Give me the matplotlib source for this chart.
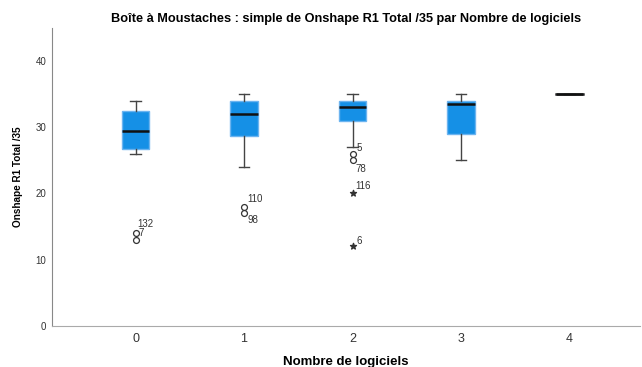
import matplotlib.pyplot as plt

plt.rcParams['font.family'] = ['Liberation Sans', 'DejaVu Sans']

groups = ["0", "1", "2", "3", "4"]
whislo = [26, 24, 27, 25, 35]
q1 = [26.7, 28.7, 31, 29, 35]
med = [29.5, 32, 33, 33.5, 35]
q3 = [32.5, 34, 34, 34, 35]
whishi = [34, 35, 35, 35, 35]

# outliers (circles) and extremes (stars): group index, value, case label
out_grp = [0, 0, 1, 1, 2, 2]
out_val = [14, 13, 18, 17, 26, 25]
out_lab = ["132", "7", "110", "98", "5", "78"]
ext_grp = [2, 2]
ext_val = [20, 12]
ext_lab = ["116", "6"]

# label offsets (x in group units, y in data units)
out_dx = [0.02, 0.03, 0.03, 0.03, 0.04, 0.03]
out_dy = [1.4, 1.0, 1.2, -1.0, 0.8, -1.3]
ext_dx = [0.03, 0.04]
ext_dy = [1.2, 0.8]

fig = plt.figure(figsize=(6.42, 3.67), dpi=100)
ax = fig.add_axes([0.081, 0.112, 0.916, 0.812])

stats = []
for i in range(len(groups)):
    stats.append({"med": med[i], "q1": q1[i], "q3": q3[i],
                  "whislo": whislo[i], "whishi": whishi[i], "fliers": []})

pos = list(range(len(groups)))
ax.bxp(stats, positions=pos, widths=0.25, patch_artist=True, showfliers=False,
       boxprops=dict(facecolor="#1590e6", edgecolor="#6cb4f0", linewidth=1),
       medianprops=dict(color="#111111", linewidth=1.8),
       whiskerprops=dict(color="#444444", linewidth=1),
       capprops=dict(color="#444444", linewidth=1),
       capwidths=0.1)

# group 4 is a single value: draw as a line
ax.plot([4 - 0.125, 4 + 0.125], [med[4], med[4]], color="#333333", lw=1.8)

ax.scatter(out_grp, out_val, s=18, facecolors="white", edgecolors="#333333",
           linewidths=0.9, zorder=3)
ax.scatter(ext_grp, ext_val, s=20, marker="*", color="#333333", zorder=3)

for g, v, t, dx, dy in zip(out_grp, out_val, out_lab, out_dx, out_dy):
    ax.text(g + dx, v + dy, t, fontsize=7, color="#333333", va="center")
for g, v, t, dx, dy in zip(ext_grp, ext_val, ext_lab, ext_dx, ext_dy):
    ax.text(g + dx, v + dy, t, fontsize=7, color="#333333", va="center")

ax.set_xlim(-0.77, 4.65)
ax.set_ylim(0, 45)
ax.set_yticks([0, 10, 20, 30, 40])
ax.set_xticks(pos)
ax.set_xticklabels(groups, fontsize=9, color="#333333")
ax.tick_params(axis="y", labelsize=7, colors="#333333", length=0, pad=4)
ax.tick_params(axis="x", length=0, pad=5)
for s in ["top", "right"]:
    ax.spines[s].set_visible(False)
ax.spines["left"].set_color("#888888")
ax.spines["bottom"].set_color("#aaaaaa")

ax.set_title("Boîte à Moustaches : simple de Onshape R1 Total /35 par Nombre de logiciels",
             fontsize=9.2, fontweight="bold", pad=4)
ax.set_xlabel("Nombre de logiciels", fontsize=9.5, fontweight="bold", labelpad=8)
ax.set_ylabel("Onshape R1 Total /35", fontsize=7.2, fontweight="bold", labelpad=9)

fig.savefig("out.png", dpi=100)
